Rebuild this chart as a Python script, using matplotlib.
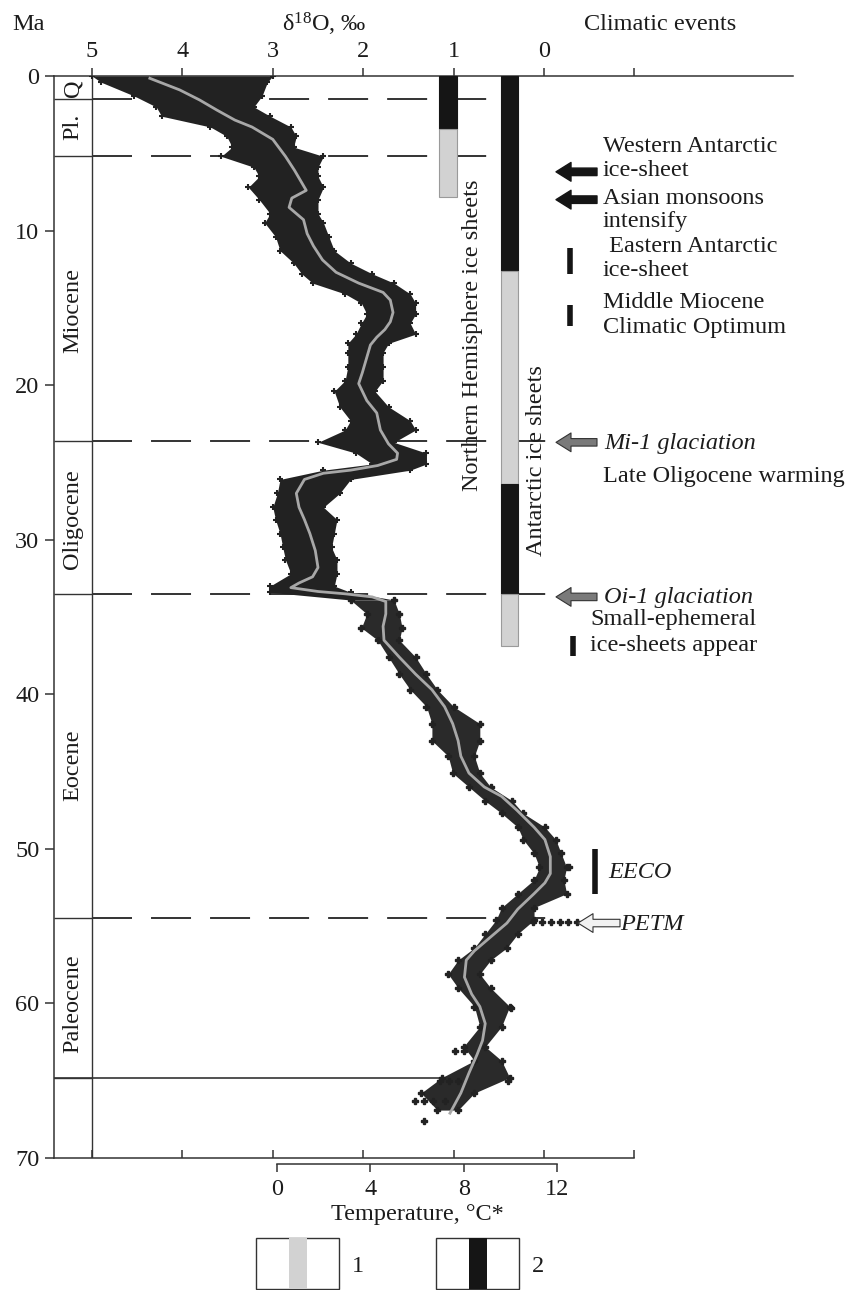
import matplotlib
matplotlib.use("Agg")
import matplotlib.pyplot as plt
from matplotlib.patches import Rectangle

plt.rcParams["font.family"] = ["Liberation Serif", "DejaVu Serif"]
plt.rcParams["mathtext.fontset"] = "custom"
plt.rcParams["mathtext.rm"] = "Liberation Serif"
plt.rcParams["mathtext.it"] = "Liberation Serif:italic"

# --- data ----------------------------------------------------------------
# smoothed d18O curve (grey line)
curve_age = [0.15, 0.9, 1.55, 2.2, 2.85, 3.3, 4.1, 5.2, 6.1, 6.9, 7.4, 7.9,
             8.5, 9.3, 10.2, 11.0, 11.9, 12.7, 13.4, 14.0, 14.5, 15.3, 15.9,
             16.4, 16.9, 17.4, 18.4, 19.2, 19.9, 21.0, 21.8, 22.9, 23.8, 24.4,
             24.8, 25.2, 25.5, 25.7, 26.1, 27.0, 27.9, 28.7, 29.6, 30.7, 31.8,
             32.4, 32.8, 33.1, 33.35, 33.5, 33.7, 34.0, 34.8, 35.6, 36.5,
             37.6, 38.7, 39.7, 40.8, 41.9, 43.0, 44.0, 45.1, 46.0, 46.6,
             47.5, 48.6, 49.4, 50.5, 51.6, 52.2, 52.9, 53.9, 54.8, 55.7,
             56.6, 57.2, 58.3, 59.4, 60.2, 61.3, 62.4, 63.3, 64.5, 65.8, 67.1]
curve_d18o = [4.36, 4.03, 3.81, 3.62, 3.42, 3.23, 3.00, 2.86, 2.76, 2.68,
              2.63, 2.79, 2.82, 2.66, 2.62, 2.55, 2.45, 2.30, 2.05, 1.78,
              1.70, 1.67, 1.70, 1.76, 1.85, 1.92, 1.97, 2.01, 2.05, 1.96,
              1.85, 1.81, 1.72, 1.62, 1.63, 1.84, 2.14, 2.44, 2.65, 2.74,
              2.71, 2.65, 2.59, 2.53, 2.50, 2.56, 2.71, 2.80, 2.50, 2.20,
              1.90, 1.75, 1.75, 1.78, 1.77, 1.60, 1.42, 1.24, 1.10, 1.01,
              0.95, 0.92, 0.83, 0.66, 0.47, 0.30, 0.11, -0.01, -0.07, -0.07,
              -0.01, 0.11, 0.29, 0.41, 0.59, 0.77, 0.86, 0.88, 0.80, 0.71,
              0.65, 0.68, 0.74, 0.83, 0.92, 1.04]

# envelope of the dense measurement cloud, 0-34 Ma (high / low d18O edge)
env_age = [0.0, 0.4, 1.3, 2.0, 2.6, 3.3, 3.9, 4.6, 5.2, 5.9, 6.5, 7.2, 8.0,
           8.9, 9.5, 10.4, 11.3, 12.1, 12.8, 13.4, 14.1, 14.7, 15.4, 16.0,
           16.7, 17.3, 17.9, 18.8, 19.7, 20.4, 21.4, 22.3, 22.9, 23.7, 24.4,
           25.1, 25.5, 26.1, 27.0, 27.9, 28.7, 29.6, 30.5, 31.3, 32.2, 33.0,
           33.4, 33.9]
env_hi = [5.00, 4.90, 4.53, 4.29, 4.23, 3.69, 3.51, 3.45, 3.57, 3.21, 3.15,
          3.27, 3.15, 3.03, 3.09, 2.97, 2.92, 2.77, 2.68, 2.56, 2.20, 2.02,
          1.96, 2.02, 2.08, 2.17, 2.17, 2.17, 2.20, 2.32, 2.26, 2.14, 2.20,
          2.50, 2.08, 1.90, 2.44, 2.92, 2.95, 3.00, 2.97, 2.92, 2.89, 2.86,
          2.80, 3.03, 3.03, 2.14]
env_lo = [3.00, 3.06, 3.12, 3.21, 3.03, 2.80, 2.74, 2.77, 2.44, 2.50, 2.50,
          2.44, 2.50, 2.50, 2.44, 2.38, 2.32, 2.14, 1.90, 1.66, 1.48, 1.42,
          1.42, 1.48, 1.42, 1.72, 1.78, 1.78, 1.78, 1.87, 1.72, 1.48, 1.42,
          1.66, 1.30, 1.30, 1.48, 2.14, 2.26, 2.44, 2.29, 2.32, 2.35, 2.29,
          2.29, 2.32, 2.14, 1.66]

# envelope of the sparser cloud, 34-67 Ma
sp_age = [33.9, 34.8, 35.7, 36.5, 37.6, 38.7, 39.7, 40.8, 41.9, 43.0, 44.0,
          45.1, 46.0, 46.9, 47.7, 48.6, 49.4, 50.3, 51.2, 52.0, 52.9, 53.8,
          54.6, 55.5, 56.4, 57.2, 58.1, 59.0, 60.2, 61.5, 62.8, 63.7, 64.8,
          65.8, 66.9]
sp_hi = [2.14, 1.96, 2.02, 1.84, 1.72, 1.60, 1.48, 1.30, 1.24, 1.24, 1.06,
         1.01, 0.83, 0.65, 0.47, 0.29, 0.23, 0.11, 0.05, 0.11, 0.29, 0.47,
         0.53, 0.65, 0.77, 0.95, 1.06, 0.95, 0.77, 0.71, 0.89, 0.77, 1.13,
         1.36, 1.18]
sp_lo = [1.66, 1.60, 1.57, 1.60, 1.42, 1.30, 1.18, 1.00, 0.71, 0.71, 0.77,
         0.71, 0.59, 0.35, 0.23, -0.01, -0.13, -0.19, -0.25, -0.22, -0.25,
         0.11, 0.11, 0.29, 0.41, 0.59, 0.71, 0.59, 0.38, 0.47, 0.65, 0.47,
         0.38, 0.77, 0.95]

# isolated points (PETM excursion, K/Pg rows, etc.)
out_age = [54.75, 54.75, 54.75, 54.75, 54.75, 54.75, 65.0, 65.0, 65.0, 65.0,
           66.3, 66.3, 66.3, 66.3, 67.6, 60.3, 51.2, 63.1, 63.1]
out_d18o = [0.12, 0.02, -0.08, -0.18, -0.27, -0.36, 1.15, 1.05, 0.95, 0.40,
            1.43, 1.33, 1.23, 1.10, 1.33, 0.36, -0.28, 0.98, 0.89]

# epochs
epoch_names = ["Q", "Pl.", "Miocene", "Oligocene", "Eocene", "Paleocene"]
epoch_label_age = [0.8, 3.3, 15.2, 28.7, 44.6, 60.0]
epoch_bounds = [1.5, 5.2, 23.6, 33.5, 54.5, 64.8]

# ice sheet bars: (start Ma, end Ma, kind) kind 1 = light, 2 = dark
nh_ice = [(0.0, 3.4, 2), (3.4, 7.8, 1)]
ant_ice = [(0.0, 12.6, 2), (12.6, 26.4, 1), (26.4, 33.5, 2), (33.5, 36.9, 1)]

# climatic events
arrow_black_age = [6.2, 8.0]
arrow_grey_age = [23.7, 33.7]
petm_age = 54.8
event_bar = [(11.1, 12.8), (14.8, 16.2), (36.2, 37.5)]
eeco_bar = (50.0, 52.9)

temp_ticks = [0, 4, 8, 12]
d18o_ticks = [5, 4, 3, 2, 1, 0, -1]
d18o_labels = ["5", "4", "3", "2", "1", "0", ""]

# --- layout helpers -------------------------------------------------------
W, H = 846, 1290
X0, PXU = 92, 90.4          # pixel of d18O = 5, pixels per unit


def fx(px):
    return px / W


def fy(py):
    return 1 - py / H


def d(px):
    """pixel column -> d18O value"""
    return 5 - (px - X0) / PXU


INK = "#1c1c1c"
LIGHT = "#d2d2d2"
DARK = "#151515"
CLOUD = "#222222"
FS = 17.5

fig = plt.figure(figsize=(W / 100, H / 100), dpi=100)
ax = fig.add_axes([fx(54), fy(1158), fx(793) - fx(54), fy(76) - fy(1158)])
ax.set_xlim(d(54), d(793))
ax.set_ylim(70, 0)

for s in ["right", "top"]:
    ax.spines[s].set_visible(False)
for s in ["left", "bottom"]:
    ax.spines[s].set_linewidth(1.1)
    ax.spines[s].set_color("#333333")
ax.spines["bottom"].set_bounds(d(54), -1)

ax.set_xticks(d18o_ticks)
ax.tick_params(axis="x", direction="in", length=6, width=1.1,
               labelbottom=False, color="#333333")
ax.set_yticks(range(0, 71, 10))
ax.tick_params(axis="y", direction="out", length=6.5, width=1.1, pad=4,
               labelsize=FS, color="#333333", labelcolor=INK)

sec = ax.secondary_xaxis("top")
sec.set_xticks(d18o_ticks, labels=d18o_labels)
sec.tick_params(direction="out", length=6, width=1.1, pad=4, labelsize=FS,
                color="#333333", labelcolor=INK)
sec.spines["top"].set_linewidth(1.1)
sec.spines["top"].set_color("#333333")

# epoch column
ax.axvline(5, color="#333333", lw=1.0)
for b in epoch_bounds:
    ax.plot([d(54), 5], [b, b], color="#333333", lw=1.0, solid_capstyle="butt")
dash_end = [d(493), d(493), d(552), d(552), d(553)]
lw_d = 1.4
for b, e in zip(epoch_bounds[:-1], dash_end):
    ax.plot([5, e], [b, b], color="#333333", lw=lw_d,
            ls=(0, (28.8 / lw_d, 13.7 / lw_d)), zorder=1)
ax.plot([d(54), d(510)], [epoch_bounds[-1]] * 2, color="#333333", lw=1.2,
        zorder=1)
for name, a in zip(epoch_names, epoch_label_age):
    ax.text(d(73), a, name, rotation=90, ha="center", va="center",
            fontsize=FS, color=INK)

# measurement cloud
ax.fill_betweenx(env_age, env_hi, env_lo, color=CLOUD, lw=0, zorder=2)
ax.plot(env_hi, env_age, "+", ms=5, mew=1.5, color=CLOUD, zorder=2)
ax.plot(env_lo, env_age, "+", ms=5, mew=1.5, color=CLOUD, zorder=2)
ax.fill_betweenx(sp_age, sp_hi, sp_lo, color="#2a2a2a", lw=0, zorder=2)
ax.plot(sp_hi, sp_age, "P", ms=4.5, color=CLOUD, lw=0, zorder=2)
ax.plot(sp_lo, sp_age, "P", ms=4.5, color=CLOUD, lw=0, zorder=2)
ax.plot(out_d18o, out_age, "P", ms=4.5, color=CLOUD, lw=0, zorder=2)
ax.plot(curve_d18o, curve_age, color="#a8a8a8", lw=2.0, zorder=3)

# ice sheet bars
for bars, (xl, xr) in [(nh_ice, (d(457), d(439))),
                       (ant_ice, (d(518), d(501)))]:
    for a0, a1, kind in bars:
        ax.add_patch(Rectangle((xl, a0), xr - xl, a1 - a0,
                               fc=DARK if kind == 2 else LIGHT,
                               ec="#9a9a9a" if kind == 1 else DARK,
                               lw=0.8, zorder=4))
ax.text(d(472), 16.8, "Northern Hemisphere ice sheets", rotation=90,
        ha="center", va="center", fontsize=FS, color=INK, zorder=5)
ax.text(d(537), 24.9, "Antarctic ice sheets", rotation=90,
        ha="center", va="center", fontsize=FS, color=INK, zorder=5)

# event arrows and bars
style = "simple,head_width=0.75,head_length=0.6,tail_width=0.3"
for a in arrow_black_age:
    ax.annotate("", xy=(d(556), a), xytext=(d(597), a),
                arrowprops=dict(arrowstyle=style, mutation_scale=18,
                                fc=DARK, ec=DARK, shrinkA=0, shrinkB=0))
for a in arrow_grey_age:
    ax.annotate("", xy=(d(556), a), xytext=(d(597), a),
                arrowprops=dict(arrowstyle=style, mutation_scale=18,
                                fc="#7a7a7a", ec="#333333", lw=0.8,
                                shrinkA=0, shrinkB=0))
ax.annotate("", xy=(d(578), petm_age), xytext=(d(620), petm_age),
            arrowprops=dict(arrowstyle=style, mutation_scale=18,
                            fc="#f2f2f2", ec="#333333", lw=0.8,
                            shrinkA=0, shrinkB=0))
for a0, a1 in event_bar[:2]:
    ax.vlines(d(570), a0, a1, color=DARK, lw=4)
ax.vlines(d(573), event_bar[2][0], event_bar[2][1], color=DARK, lw=4)
ax.vlines(d(595), eeco_bar[0], eeco_bar[1], color=DARK, lw=4)

# texts
fig.text(fx(12), fy(24), "Ma", ha="left", va="center", fontsize=FS, color=INK)
fig.text(fx(324), fy(24), r"δ$^{18}$O, ‰", ha="center", va="center",
         fontsize=FS, color=INK)
fig.text(fx(584), fy(24), "Climatic events", ha="left", va="center",
         fontsize=FS, color=INK)

events = [(603, 147, "Western Antarctic", "normal"),
          (603, 170, "ice-sheet", "normal"),
          (603, 198, "Asian monsoons", "normal"),
          (603, 222, "intensify", "normal"),
          (603, 247, " Eastern Antarctic", "normal"),
          (603, 270, "ice-sheet", "normal"),
          (603, 303, "Middle Miocene", "normal"),
          (603, 327, "Climatic Optimum", "normal"),
          (604, 443, "Mi-1 glaciation", "italic"),
          (603, 477, "Late Oligocene warming", "normal"),
          (604, 598, "Oi-1 glaciation", "italic"),
          (590, 620, "Small-ephemeral", "normal"),
          (590, 645, "ice-sheets appear", "normal"),
          (608, 873, "EECO", "italic"),
          (620, 924, "PETM", "italic")]
for px, py, t, st in events:
    fig.text(fx(px), fy(py), t, ha="left", va="center", fontsize=FS,
             style=st, color=INK)

# temperature scale
tax = fig.add_axes([fx(277), fy(1164), fx(557) - fx(277), 0.0005])
tax.set_xlim(0, 12)
tax.patch.set_visible(False)
for s in ["left", "right", "top"]:
    tax.spines[s].set_visible(False)
tax.spines["bottom"].set_linewidth(1.1)
tax.spines["bottom"].set_color("#333333")
tax.set_yticks([])
tax.set_xticks(temp_ticks)
tax.tick_params(axis="x", direction="out", length=6, width=1.1, pad=5,
                labelsize=FS, color="#333333", labelcolor=INK)
tax.set_xlabel("Temperature, °C*", fontsize=FS, color=INK, labelpad=3)

# legend
for bx, lab, col in [(256, "1", LIGHT), (436, "2", DARK)]:
    fig.add_artist(Rectangle((fx(bx), fy(1289)), 83 / W, 51 / H,
                             transform=fig.transFigure, fill=False,
                             ec="#333333", lw=1.0))
    fig.add_artist(Rectangle((fx(bx + 33), fy(1289)), 18 / W, 51 / H,
                             transform=fig.transFigure, fc=col, ec="none"))
    fig.text(fx(bx + 96), fy(1267), lab, ha="left", va="center",
             fontsize=FS, color=INK)

fig.savefig("out.png", dpi=100, facecolor="white")
